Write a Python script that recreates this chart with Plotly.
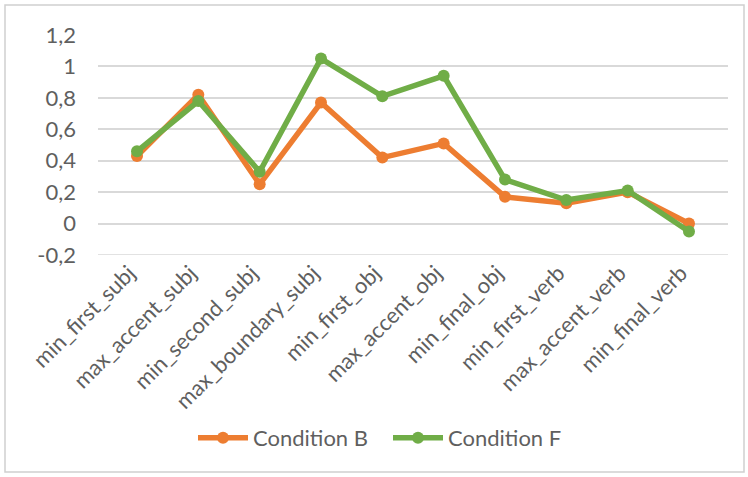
import plotly.graph_objects as go

categories = ["min_first_subj", "max_accent_subj", "min_second_subj", "max_boundary_subj",
              "min_first_obj", "max_accent_obj", "min_final_obj", "min_first_verb",
              "max_accent_verb", "min_final_verb"]
cond_b = [0.43, 0.82, 0.25, 0.77, 0.42, 0.51, 0.17, 0.13, 0.20, 0.00]
cond_f = [0.46, 0.78, 0.33, 1.05, 0.81, 0.94, 0.28, 0.15, 0.21, -0.05]
y_ticks = [-0.2, 0, 0.2, 0.4, 0.6, 0.8, 1.0, 1.2]
y_tick_text = ["-0,2", "0", "0,2", "0,4", "0,6", "0,8", "1", "1,2"]

font_fam = "Lato, Open Sans, sans-serif"
txt_col = "#5f5f5f"

fig = go.Figure()
fig.add_trace(go.Scatter(x=categories, y=cond_b, name="Condition B", mode="lines+markers",
                         line=dict(color="#ED7D31", width=5.5), marker=dict(size=12, color="#ED7D31")))
fig.add_trace(go.Scatter(x=categories, y=cond_f, name="Condition F", mode="lines+markers",
                         line=dict(color="#70AD47", width=5.5), marker=dict(size=12, color="#70AD47")))

L, R, T, B = 98, 20, 35, 222
W, H = 748, 477
pw, ph = W - L - R, H - T - B
fig.update_layout(
    width=W, height=H,
    margin=dict(l=L, r=R, t=T, b=B),
    paper_bgcolor="white", plot_bgcolor="white",
    separators=", ",
    font=dict(family=font_fam, color=txt_col, size=20),
    showlegend=True,
    legend=dict(orientation="h", x=(193 - L) / pw, xanchor="left", y=(255 - 438) / ph, yanchor="middle",
                font=dict(size=22, color=txt_col), itemwidth=50, entrywidth=130),
    xaxis=dict(tickangle=-45, showgrid=False, showline=False, ticks="", automargin=False,
               tickfont=dict(size=22, color=txt_col), ticklabelshift=-8),
    yaxis=dict(range=[-0.2, 1.2], tickvals=y_ticks, ticktext=y_tick_text,
               showgrid=True, gridcolor="#d9d9d9", gridwidth=1.5, zeroline=True, zerolinecolor="#d9d9d9",
               zerolinewidth=1.5, showline=False, ticks="", ticklabelstandoff=21, automargin=False,
               tickfont=dict(size=22, color=txt_col)),
    shapes=[dict(type="rect", xref="paper", yref="paper",
                 x0=(5 - L) / pw, x1=(744 - L) / pw, y0=(255 - 472) / ph, y1=(255 - 5) / ph,
                 line=dict(color="#d0d0d0", width=1.5), fillcolor="rgba(0,0,0,0)", layer="below"),
            dict(type="line", xref="paper", yref="y", x0=0, x1=1, y0=-0.2, y1=-0.2,
                 line=dict(color="#d9d9d9", width=1.5), layer="below")],
)
fig.write_html("out.html")
